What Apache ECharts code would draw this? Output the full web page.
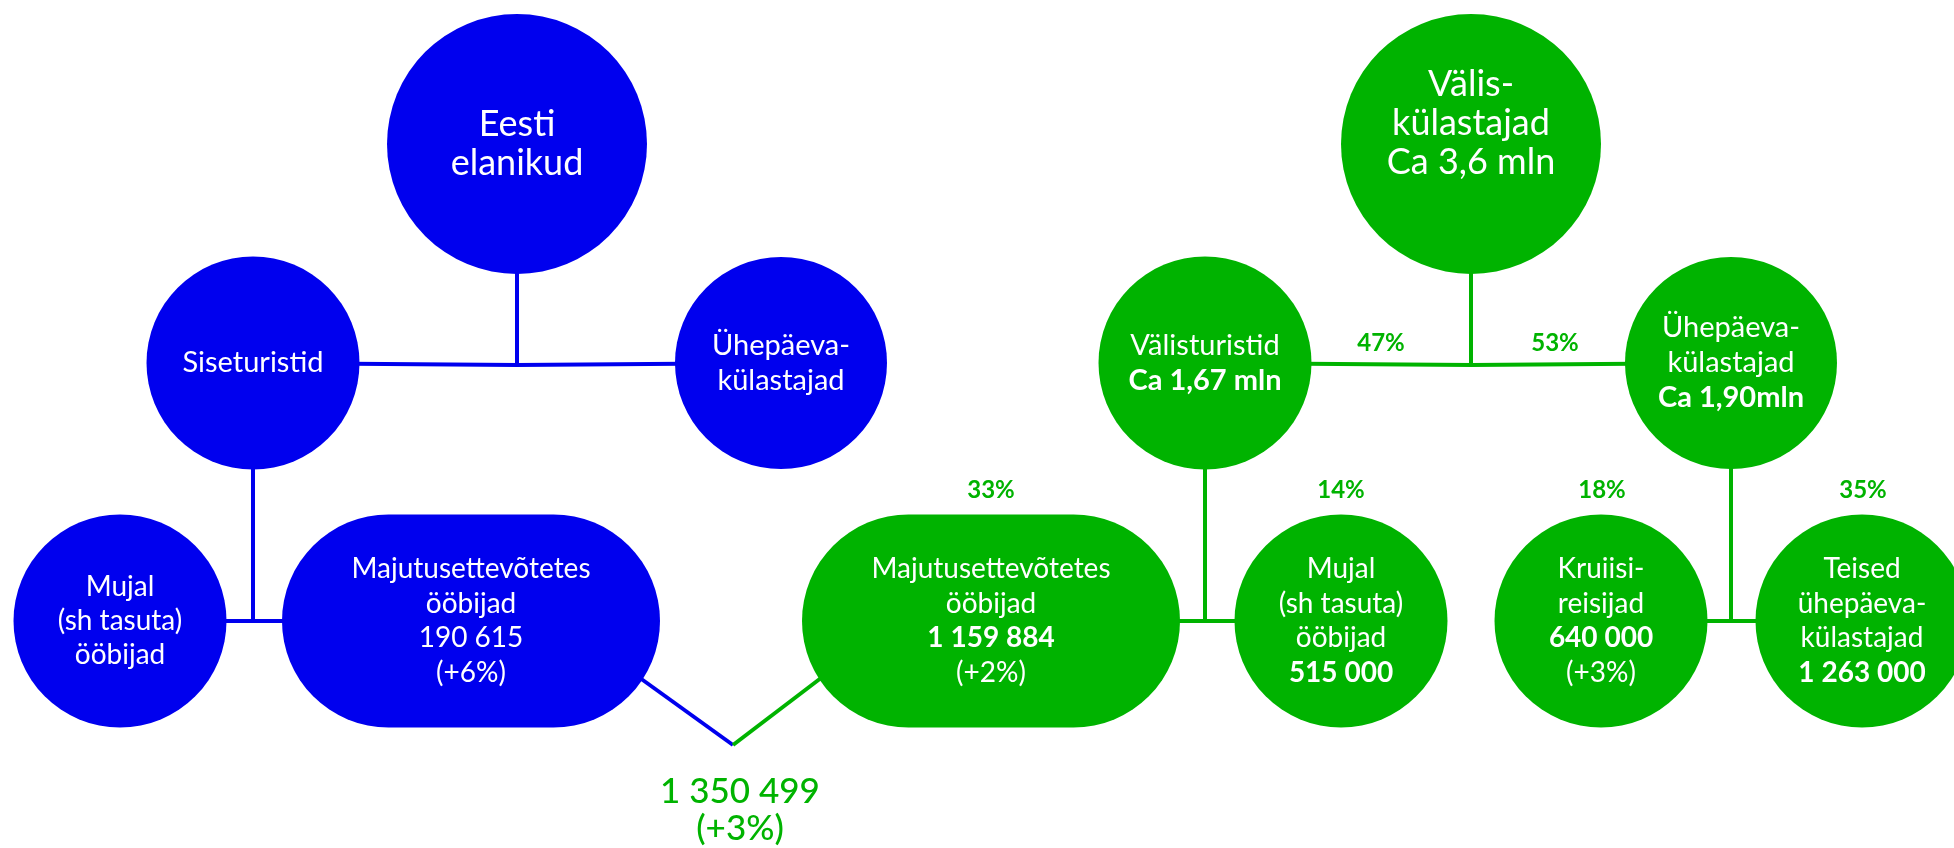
<!DOCTYPE html>
<html>
<head>
<meta charset="utf-8">
<script src="https://cdn.jsdelivr.net/npm/echarts@6/dist/echarts.min.js"></script>
<style>
  html, body { margin: 0; padding: 0; background: #fff; }
  #main { width: 1954px; height: 848px; }
</style>
</head>
<body>
<div id="main"></div>
<script>
// andmed
const nodeIds = ['eesti', 'siseturistid', 'yhepaev_b', 'mujal_b', 'majutus_b',
  'valis', 'valisturistid', 'yhepaev_g', 'majutus_g', 'mujal_g', 'kruiisi', 'teised'];
const nodeTitles = ['Eesti\nelanikud', 'Siseturistid', 'Ühepäeva-\nkülastajad', 'Mujal\n(sh tasuta)\nööbijad',
  'Majutusettevõtetes\nööbijad', 'Välis-\nkülastajad', 'Välisturistid', 'Ühepäeva-\nkülastajad',
  'Majutusettevõtetes\nööbijad', 'Mujal\n(sh tasuta)\nööbijad', 'Kruiisi-\nreisijad', 'Teised\nühepäeva-\nkülastajad'];
const nodeFigures = ['', '', '', '', '190 615', 'Ca 3,6 mln', 'Ca 1,67 mln', 'Ca 1,90mln',
  '1 159 884', '515 000', '640 000', '1 263 000'];
const nodeChanges = ['', '', '', '', '(+6%)', '', '', '', '(+2%)', '', '(+3%)', ''];
const shareLabels = ['47%', '53%', '33%', '14%', '18%', '35%'];
const totalValue = '1 350 499';
const totalChange = '(+3%)';

// paigutus
const BLUE = '#0000ee';
const GREEN = '#00b300';
const FONT = 'Lato, "Liberation Sans", sans-serif';
const PILL = 'path://M106.5,0 L271.5,0 A106.5,106.5 0 0 1 271.5,213 L106.5,213 A106.5,106.5 0 0 1 106.5,0 Z';

const nodeLayout = {
  eesti:         { pos: [517, 144],  size: 260, color: BLUE,  font: 36, lh: 39, bold: false },
  siseturistid:  { pos: [253, 363],  size: 213, color: BLUE,  font: 29, lh: 35, bold: false },
  yhepaev_b:     { pos: [781, 363],  size: 212, color: BLUE,  font: 29, lh: 35, bold: false },
  mujal_b:       { pos: [120, 621],  size: 213, color: BLUE,  font: 28, lh: 34, bold: false },
  majutus_b:     { pos: [471, 621],  size: [378, 213], color: BLUE, font: 28, lh: 34.5, bold: false, pill: true },
  valis:         { pos: [1471, 144], size: 260, color: GREEN, font: 36, lh: 39, bold: false, dy: -21 },
  valisturistid: { pos: [1205, 363], size: 213, color: GREEN, font: 29, lh: 35, bold: true },
  yhepaev_g:     { pos: [1731, 363], size: 212, color: GREEN, font: 29, lh: 35, bold: true },
  majutus_g:     { pos: [991, 621],  size: [378, 213], color: GREEN, font: 28, lh: 34.5, bold: true, pill: true },
  mujal_g:       { pos: [1341, 621], size: 213, color: GREEN, font: 28, lh: 34.5, bold: true },
  kruiisi:       { pos: [1601, 621], size: 213, color: GREEN, font: 28, lh: 34.5, bold: true },
  teised:        { pos: [1862, 621], size: 213, color: GREEN, font: 28, lh: 34.5, bold: true }
};

const joints = {
  jb_top: [517, 365], jb_low: [253, 621],
  v_b: [640, 678], v_bot: [733, 745], v_g: [821, 678],
  jg_top: [1471, 365], jg_a: [1205, 621], jg_b: [1731, 621]
};

const sharePos = [[1381, 343], [1555, 343], [991, 490], [1341, 490], [1602, 490], [1863, 490]];
const totalPos = [740, 810];

const blueLinks = [['eesti', 'jb_top'], ['siseturistid', 'jb_top'], ['jb_top', 'yhepaev_b'],
  ['siseturistid', 'jb_low'], ['mujal_b', 'majutus_b'], ['v_b', 'v_bot']];
const greenLinks = [['v_bot', 'v_g'], ['valis', 'jg_top'], ['valisturistid', 'jg_top'], ['jg_top', 'yhepaev_g'],
  ['valisturistid', 'jg_a'], ['majutus_g', 'mujal_g'], ['yhepaev_g', 'jg_b'], ['kruiisi', 'teised']];

let nodes = [];

nodeIds.forEach((id, i) => {
  const l = nodeLayout[id];
  let lines = nodeTitles[i].split('\n').map(s => '{t|' + s + '}');
  if (nodeFigures[i]) lines.push('{f|' + nodeFigures[i] + '}');
  if (nodeChanges[i]) lines.push('{t|' + nodeChanges[i] + '}');
  nodes.push({
    name: id,
    value: l.pos,
    symbol: l.pill ? PILL : 'circle',
    symbolSize: l.size,
    itemStyle: { color: l.color },
    label: {
      show: true,
      position: 'inside',
      offset: [0, l.dy || 0],
      formatter: lines.join('\n'),
      rich: {
        t: { color: '#fff', fontFamily: FONT, fontSize: l.font, lineHeight: l.lh, align: 'center' },
        f: { color: '#fff', fontFamily: FONT, fontSize: l.font, lineHeight: l.lh, align: 'center',
             fontWeight: l.bold ? 'bold' : 'normal' }
      }
    }
  });
});

Object.keys(joints).forEach(k => {
  nodes.push({ name: k, value: joints[k], symbolSize: 0, label: { show: false } });
});

shareLabels.forEach((s, i) => {
  nodes.push({
    name: 'share' + i,
    value: sharePos[i],
    symbolSize: 0,
    label: {
      show: true, position: 'inside', formatter: s,
      color: GREEN, fontFamily: FONT, fontSize: 24, fontWeight: 'bold'
    }
  });
});

nodes.push({
  name: 'total',
  value: totalPos,
  symbolSize: 0,
  label: {
    show: true, position: 'inside',
    formatter: totalValue + '\n' + totalChange,
    color: GREEN, fontFamily: FONT, fontSize: 35, lineHeight: 37, fontWeight: 500
  }
});

const links = blueLinks.map(p => ({ source: p[0], target: p[1], lineStyle: { color: BLUE } }))
  .concat(greenLinks.map(p => ({ source: p[0], target: p[1], lineStyle: { color: GREEN } })));

const chart = echarts.init(document.getElementById('main'));
chart.setOption({
  animation: false,
  grid: { left: 0, right: 0, top: 0, bottom: 0 },
  xAxis: { type: 'value', min: 0, max: 1954, show: false },
  yAxis: { type: 'value', min: 0, max: 848, inverse: true, show: false },
  series: [{
    type: 'graph',
    layout: 'none',
    coordinateSystem: 'cartesian2d',
    silent: true,
    edgeSymbol: ['none', 'none'],
    lineStyle: { width: 4, opacity: 1, curveness: 0 },
    data: nodes,
    links: links
  }]
});
</script>
</body>
</html>
